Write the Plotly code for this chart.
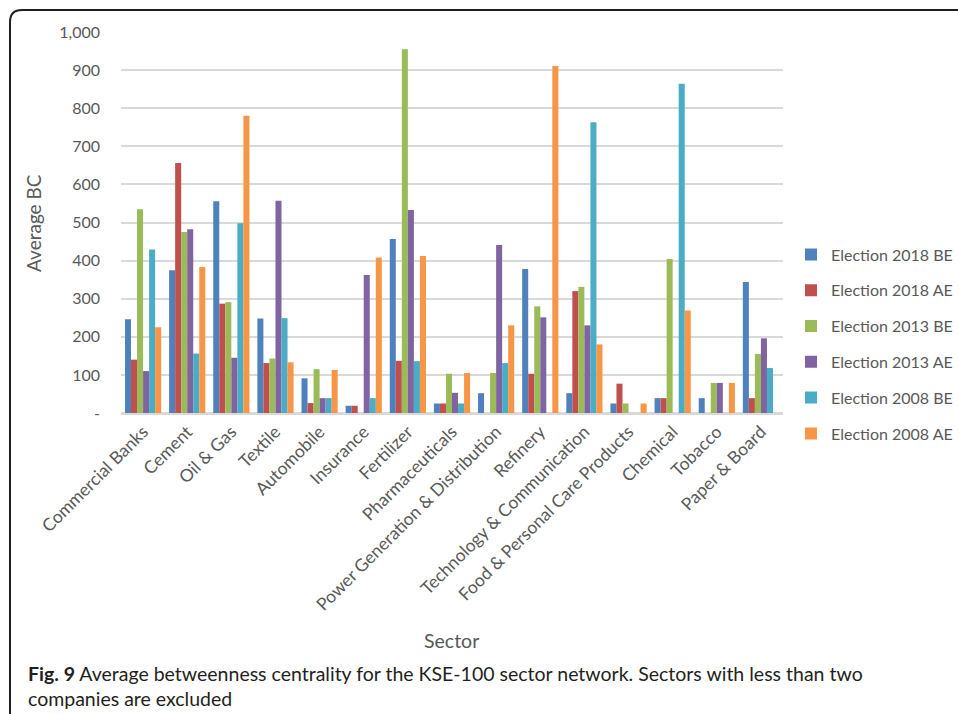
import plotly.graph_objects as go

sectors = ["Commercial Banks", "Cement", "Oil & Gas", "Textile", "Automobile", "Insurance",
           "Fertilizer", "Pharmaceuticals", "Power Generation & Distribution", "Refinery",
           "Technology & Communication", "Food & Personal Care Products", "Chemical",
           "Tobacco", "Paper & Board"]

e2018_be = [246, 375, 556, 248, 91, 19, 457, 25, 52, 378, 52, 25, 39, 39, 344]
e2018_ae = [140, 656, 287, 131, 26, 19, 137, 25, 0, 103, 320, 77, 39, 0, 39]
e2013_be = [535, 475, 291, 143, 115, 0, 955, 103, 105, 280, 331, 25, 404, 79, 155]
e2013_ae = [110, 482, 145, 557, 39, 362, 533, 53, 441, 251, 230, 0, 0, 79, 196]
e2008_be = [429, 156, 498, 249, 39, 39, 136, 25, 131, 0, 763, 0, 864, 0, 118]
e2008_ae = [225, 383, 780, 133, 113, 408, 412, 105, 230, 911, 180, 25, 269, 79, 0]

series_names = ["Election 2018 BE", "Election 2018 AE", "Election 2013 BE",
                "Election 2013 AE", "Election 2008 BE", "Election 2008 AE"]
series_values = [e2018_be, e2018_ae, e2013_be, e2013_ae, e2008_be, e2008_ae]
colors = ["#4F81BD", "#C0504D", "#9BBB59", "#8064A2", "#4BACC6", "#F79646"]

y_tickvals = [0, 100, 200, 300, 400, 500, 600, 700, 800, 900, 1000]
y_ticktext = ["-", "100", "200", "300", "400", "500", "600", "700", "800", "900", "1,000"]

W, H = 958, 714
ML, MR, MT, MB = 121, 175, 32, 301
PW = W - ML - MR
PH = H - MT - MB

def px(x):
    return (x - ML) / PW

def py(y):
    return (H - MB - y) / PH

FONT = "Lato"
GRAY = "#595959"

fig = go.Figure()
for name, vals, col in zip(series_names, series_values, colors):
    fig.add_trace(go.Bar(
        x=sectors, y=vals, name=name, marker=dict(color=col, line=dict(width=0)),
        legendgroup=name,
    ))

fig.update_layout(
    width=W, height=H,
    margin=dict(l=ML, r=MR, t=MT, b=MB, autoexpand=False),
    paper_bgcolor="white", plot_bgcolor="white",
    barmode="group", bargap=0.18, bargroupgap=0,
    font=dict(family=FONT, size=16, color=GRAY),
    showlegend=True,
    legend=dict(x=px(791), xanchor="left", y=py(344), yanchor="middle",
                font=dict(family=FONT, size=16, color=GRAY),
                tracegroupgap=12, itemwidth=30, bgcolor="rgba(0,0,0,0)"),
    xaxis=dict(tickangle=-45, showgrid=False, showline=True, linecolor="#D9D9D9",
               linewidth=1.5, tickfont=dict(family=FONT, size=17.5, color=GRAY),
               ticks=""),
    yaxis=dict(range=[0, 1000], tickvals=y_tickvals, ticktext=y_ticktext,
               showgrid=True, gridcolor="#D9D9D9", gridwidth=1.5,
               zeroline=True, zerolinecolor="#D9D9D9", zerolinewidth=1.5,
               tickfont=dict(family=FONT, size=16, color=GRAY), ticks="",
               ticklabelstandoff=20),
)

# axis titles
fig.add_annotation(text="Average BC", x=px(34), y=py(223), xref="paper", yref="paper",
                   xanchor="center", yanchor="middle",
                   textangle=-90, showarrow=False, font=dict(family=FONT, size=19, color=GRAY))
fig.add_annotation(text="Sector", x=px(451), y=py(640), xref="paper", yref="paper",
                   xanchor="center", yanchor="middle",
                   showarrow=False, font=dict(family=FONT, size=19.5, color=GRAY))

# caption
fig.add_annotation(
    text="<b>Fig. 9</b> Average betweenness centrality for the KSE-100 sector network. Sectors with less than two<br>companies are excluded",
    x=px(26), y=py(660), xref="paper", yref="paper", xanchor="left", yanchor="top",
    align="left", showarrow=False, font=dict(family=FONT, size=19.5, color="#231F20"))

# figure frame
frame = (f"M {px(10)},{py(720)} L {px(10)},{py(22)} Q {px(10)},{py(10)} {px(22)},{py(10)} "
         f"L {px(970)},{py(10)}")
fig.add_shape(type="path", path=frame, xref="paper", yref="paper",
              line=dict(color="#231F20", width=2))

fig.write_html("out.html", config={"displayModeBar": False},
               post_script="document.body.style.margin='0';document.body.style.overflow='hidden';")
